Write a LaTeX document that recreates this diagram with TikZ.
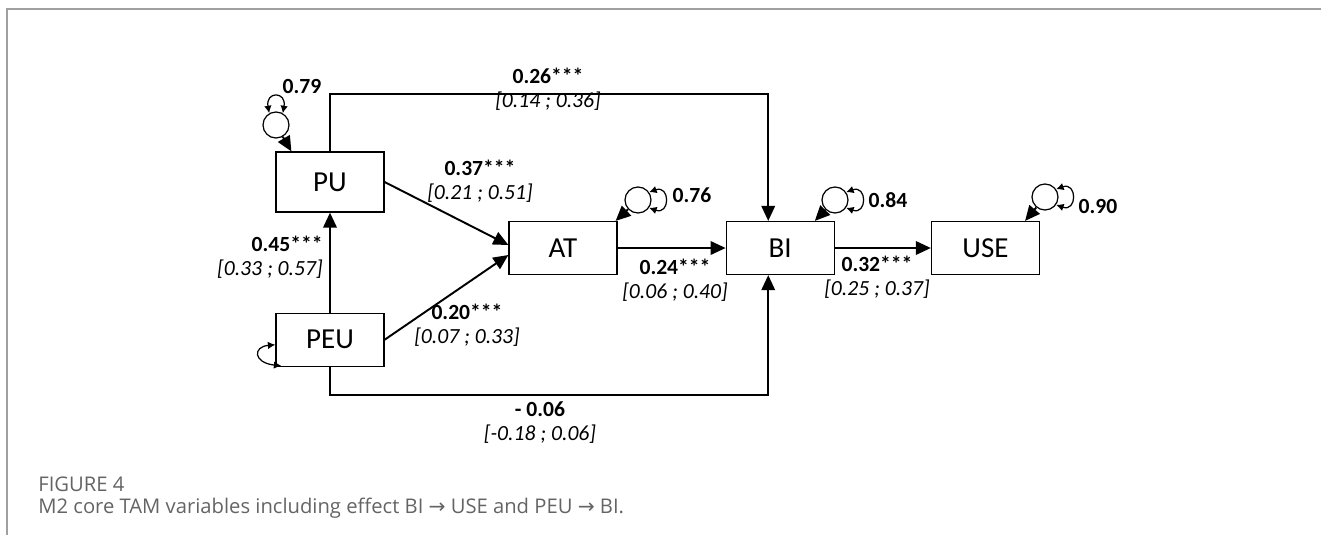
\documentclass[tikz,border=0pt]{standalone}
\usepackage{fontspec}
\setmainfont{Carlito}
\newfontfamily\capfont{Open Sans}
\newfontfamily\arrfont{DejaVu Sans}
\usetikzlibrary{arrows.meta,positioning,calc}
\definecolor{CapGray}{RGB}{100,100,100}
\definecolor{FrameGray}{RGB}{160,160,160}

\begin{document}
\begin{tikzpicture}[node distance=2cm,
  vbox/.style={draw,line width=0.7pt,minimum width=2.16cm,minimum height=1.06cm,
               inner sep=0pt,font=\fontsize{16.5}{18}\selectfont},
  resid/.style={draw,circle,line width=0.7pt,minimum size=0.52cm,inner sep=0pt},
  coef/.style={align=center,inner sep=0pt,font=\fontsize{12.3}{13.6}\selectfont},
  lnk/.style={line width=1.1pt,-{Triangle[length=0.3cm,width=0.27cm]}},
  dbl/.style={line width=0.7pt,
              {Latex[length=0.15cm,width=0.15cm]}-{Latex[length=0.15cm,width=0.15cm]}},
  capt/.style={anchor=west,inner sep=0pt,text=CapGray,font=\capfont\fontsize{11.5}{13}\selectfont}]
  \useasboundingbox (0,0) rectangle (26.42,-10.7);
  \draw[FrameGray,line width=0.8pt] (26.42,-0.18) -- (0.14,-0.18) -- (0.14,-10.7);

  % variables
  \node[vbox,minimum height=1.2cm] (PU) at (6.6,-3.64) {PU};
  \node[vbox,below=2cm of PU] (PEU) {PEU};
  \node[vbox] (AT) at (11.26,-4.96) {AT};
  \node[vbox,right=2.16cm of AT] (BI) {BI};
  \node[vbox,right=1.92cm of BI] (USE) {USE};

  % structural paths
  \draw[lnk] (PEU) -- (PU);
  \draw[lnk] (PU.east) -- ([yshift=0.06cm]AT.west);
  \draw[lnk] (PEU.east) -- ([yshift=-0.14cm]AT.west);
  \draw[lnk] (AT) -- (BI);
  \draw[lnk] (BI) -- (USE);
  \draw[lnk] (PU.north) -- ++(0,1.14) -| ([xshift=-0.24cm]BI.north);
  \draw[lnk] (PEU.south) -- ++(0,-0.56) -| ([xshift=-0.24cm]BI.south);

  % residuals
  \node[resid] (eU) at (5.52,-2.5) {};
  \node[resid] (eA) at (12.76,-4.0) {};
  \node[resid] (eB) at (16.7,-4.0) {};
  \node[resid] (eS) at (20.9,-3.94) {};
  \draw[lnk] (eU) -- ([xshift=0.32cm]PU.north west);
  \draw[lnk] (eA) -- ([xshift=-0.04cm]AT.north east);
  \draw[lnk] (eB) -- ([xshift=-0.4cm]BI.north east);
  \draw[lnk] (eS) -- ([xshift=-0.3cm]USE.north east);
  \draw[dbl] (eU.120) .. controls +(100:0.45) and +(80:0.45) .. (eU.60);
  \draw[dbl] (eA.35) .. controls +(20:0.45) and +(-20:0.45) .. (eA.-35);
  \draw[dbl] (eB.35) .. controls +(20:0.45) and +(-20:0.45) .. (eB.-35);
  \draw[dbl] (eS.35) .. controls +(20:0.45) and +(-20:0.45) .. (eS.-35);
  \draw[dbl] ([yshift=-0.1cm]PEU.west) .. controls +(-0.46,-0.04) and +(-0.56,0.06)
       .. ([shift={(0.12,0.02)}]PEU.south west);

  % estimates
  \node[coef] (rU) at (6.04,-1.72) {\textbf{0.79}};
  \node[coef] (rA) at (13.84,-3.9) {\textbf{0.76}};
  \node[coef] (rB) at (17.76,-4.0) {\textbf{0.84}};
  \node[coef] (rS) at (21.96,-4.12) {\textbf{0.90}};
  \node[coef] (cUB) at (10.96,-1.78) {\textbf{0.26***}\\\textit{[0.14 ; 0.36]}};
  \node[coef] (cUA) at (9.6,-3.63) {\textbf{0.37***}\\\textit{[0.21 ; 0.51]}};
  \node[coef,align=right,anchor=east] (cEU) at (6.46,-5.14) {\textbf{0.45***}\\\textit{[0.33 ; 0.57]}};
  \node[coef] (cEA) at (9.34,-6.5) {\textbf{0.20***}\\\textit{[0.07 ; 0.33]}};
  \node[coef] (cAB) at (13.5,-5.6) {\textbf{0.24***}\\\textit{[0.06 ; 0.40]}};
  \node[coef] (cBS) at (17.54,-5.54) {\textbf{0.32***}\\\textit{[0.25 ; 0.37]}};
  \node[coef] (cEB) at (10.8,-8.46) {\textbf{- 0.06}\\\textit{[-0.18 ; 0.06]}};

  % caption
  \node[capt] (fig) at (0.76,-9.68) {FIGURE 4};
  \node[capt] (cap) at (0.76,-10.16)
       {M2 core TAM variables including effect BI {\arrfont →} USE and PEU {\arrfont →} BI.};
\end{tikzpicture}
\end{document}
